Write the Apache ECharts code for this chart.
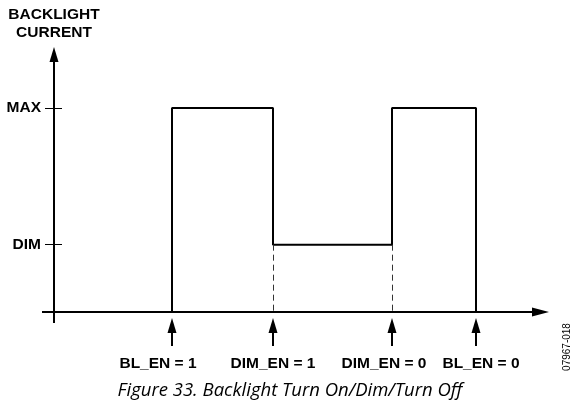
<!DOCTYPE html>
<html>
<head>
<meta charset="utf-8">
<script src="https://cdn.jsdelivr.net/npm/echarts@6/dist/echarts.min.js"></script>
<style>
  html, body { margin: 0; padding: 0; background: #fff; }
  #chart { width: 573px; height: 404px; }
</style>
</head>
<body>
<div id="chart"></div>
<script>
// timing diagram: control events on the time axis (arbitrary units), current level after each one
const eventTimes = [1.18, 2.19, 3.38, 4.22]
const eventLabels = ['BL_EN = 1', 'DIM_EN = 1', 'DIM_EN = 0', 'BL_EN = 0']
const levelsAfter = [1, 0.33, 1, 0] // current starts at 0
const levelNames = ['MAX', 'DIM']
const levelValues = [1, 0.33]

const BLACK = '#000'
const FONT = '"Liberation Sans", Arial, sans-serif'
// labels under the arrows are not exactly centred in the original drawing (px)
const labelShift = [-14, 0, -8, 5]

// step waveform from the events
const signal = []
let prev = 0
eventTimes.forEach((t, i) => {
  signal.push([t, prev], [t, levelsAfter[i]])
  prev = levelsAfter[i]
})

// dashed drop lines where the current switches between two non-zero levels
const dashed = []
prev = 0
eventTimes.forEach((t, i) => {
  if (prev > 0 && levelsAfter[i] > 0) {
    dashed.push([
      { coord: [t, Math.min(prev, levelsAfter[i])], lineStyle: { type: [6, 4], width: 1, color: '#333' } },
      { coord: [t, 0] },
    ])
  }
  prev = levelsAfter[i]
})

const boldLabel = { fontFamily: FONT, fontWeight: 'bold', fontSize: 15.5, color: BLACK }

const axes = [
  [
    { coord: [-0.12, 0] },
    { coord: [4.865, 0], symbol: 'triangle', symbolSize: [9, 17] },
  ],
  [
    {
      coord: [0, -0.054],
      label: { show: true, position: 'end', distance: 13, formatter: 'BACKLIGHT\nCURRENT', lineHeight: 18, ...boldLabel },
    },
    { coord: [0, 1.262], symbol: 'triangle', symbolSize: [9, 15] },
  ],
]

const levelTicks = levelNames.map((name, i) => [
  {
    coord: [-0.09, levelValues[i]],
    lineStyle: { width: 1 },
    label: { show: true, position: 'start', distance: 4, formatter: name, ...boldLabel },
  },
  { coord: [0.08, levelValues[i]] },
])

const eventArrows = eventTimes.map((t, i) => [
  {
    coord: [t, -0.167],
    label: { show: true, position: 'start', distance: 10, offset: [labelShift[i], 0], formatter: eventLabels[i], ...boldLabel },
  },
  { coord: [t, -0.066], symbol: 'triangle', symbolSize: [9, 15] },
])

const chart = echarts.init(document.getElementById('chart'))
chart.setOption({
  animation: false,
  grid: { left: 4, right: 19, top: 26.4, bottom: 10.4 },
  xAxis: { type: 'value', min: -0.5, max: 5, show: false },
  yAxis: { type: 'value', min: -0.4, max: 1.4, show: false },
  series: [
    {
      name: 'current',
      type: 'line',
      data: signal,
      symbol: 'none',
      lineStyle: { width: 2, color: BLACK },
      markLine: {
        silent: true,
        symbol: ['none', 'none'],
        lineStyle: { type: 'solid', width: 2, color: BLACK },
        label: { show: false },
        data: [...axes, ...levelTicks, ...dashed, ...eventArrows],
      },
    },
  ],
  graphic: [
    {
      type: 'text',
      x: 290,
      y: 391,
      style: {
        text: 'Figure 33. Backlight Turn On/Dim/Turn Off',
        fontFamily: '"Open Sans", sans-serif',
        fontStyle: 'italic',
        fontSize: 18.5,
        fill: BLACK,
        align: 'center',
        verticalAlign: 'middle',
      },
    },
    {
      type: 'text',
      x: 567,
      y: 347,
      rotation: Math.PI / 2,
      style: {
        text: '07967-018',
        fontFamily: FONT,
        fontSize: 10,
        fill: BLACK,
        align: 'center',
        verticalAlign: 'middle',
      },
    },
  ],
})
</script>
</body>
</html>
